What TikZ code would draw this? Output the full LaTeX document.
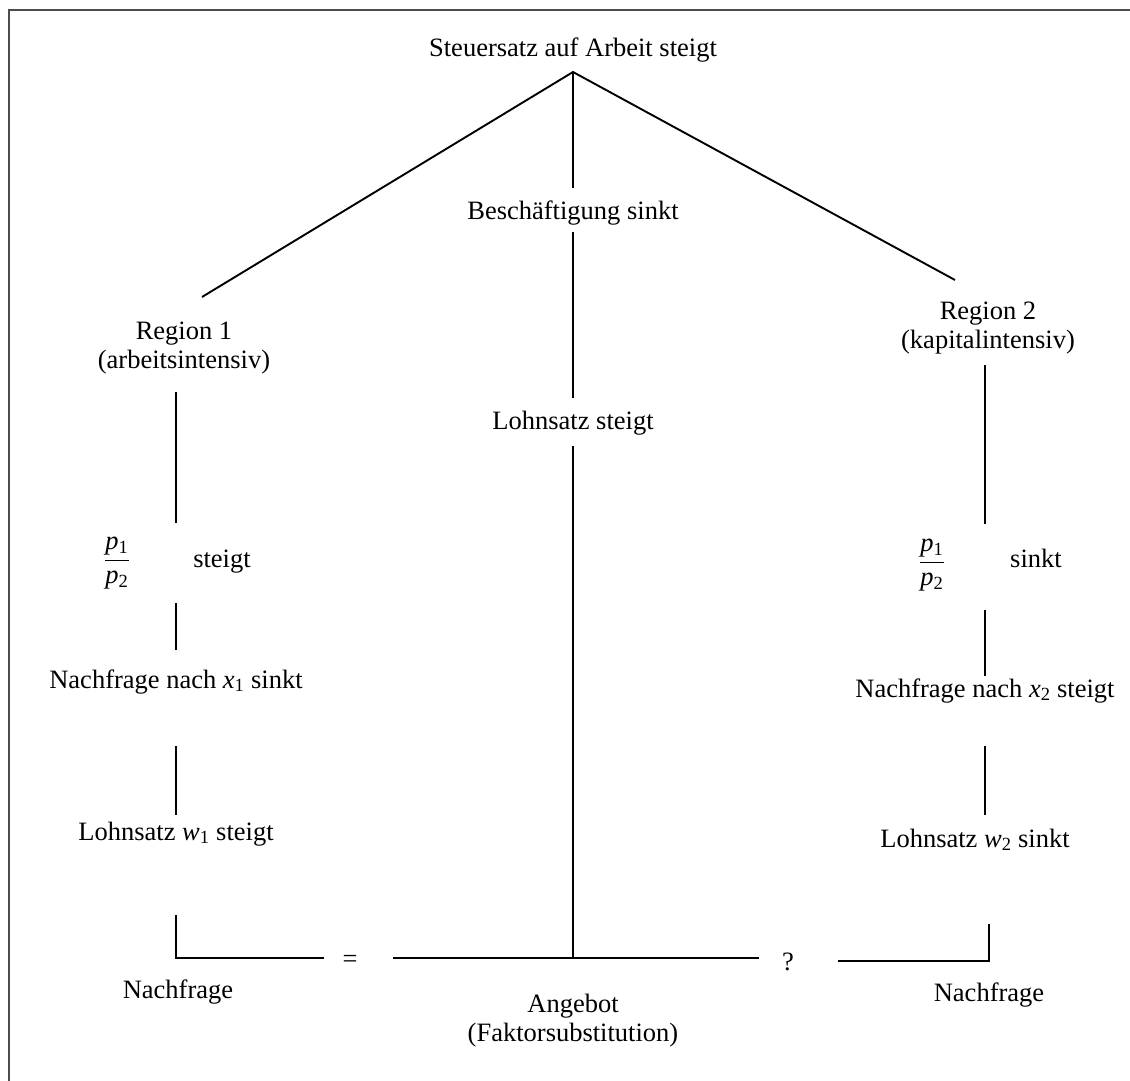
\documentclass[tikz,border=0pt]{standalone}
\usepackage{fontspec}
\setmainfont{Liberation Serif}
\usetikzlibrary{positioning}
\tikzset{
  txt/.style={font=\fontsize{26.5}{29}\selectfont, align=center, inner sep=0pt, anchor=base},
  conn/.style={black, line width=1.9pt},
}
\newcommand{\pfrac}{$\displaystyle\frac{\textit{p}\textsubscript{1}}{\textit{p}\textsubscript{2}}$}

\begin{document}
\begin{tikzpicture}[x=1pt, y=-1pt]
\useasboundingbox (0,0) rectangle (1130,1081);
\draw[black!70, line width=1.6pt] (1130,10) -- (9,10) -- (9,1081);

% 1. 标记重要的点
\coordinate (top) at (573, 72);
\coordinate (lend) at (202, 297);
\coordinate (rend) at (955, 280);
\coordinate (mend) at (573, 188);
\coordinate (m1a) at (573, 232);
\coordinate (m1b) at (573, 398);
\coordinate (m2a) at (573, 446);
\coordinate (m2b) at (573, 958);
\coordinate (bl) at (393, 958);
\coordinate (br) at (759, 958);
\coordinate (lbot) at (176, 958);
\coordinate (lbr) at (324, 958);
\coordinate (rbot) at (989, 961);
\coordinate (rbl) at (838, 961);
\coordinate (rtop) at (989, 924);

% 2. 文字
\node[txt] (tax) at (573, 57) {Steuersatz auf Arbeit steigt};
\node[txt] (emp) at (573, 219) {Beschäftigung sinkt};
\node[txt] (wage) at (573, 429) {Lohnsatz steigt};
\node[txt] (supply) at (573, 1041) {Angebot\\(Faktorsubstitution)};
\node[txt] (eq) at (350, 967) {=};
\node[txt] (qm) at (788, 970) {?};

\node[txt] (reg1) at (184, 368) {Region 1\\(arbeitsintensiv)};
\node[txt, anchor=center] (frac1) at (117, 563) {\pfrac};
\node[txt] (up1) at (222, 567) {steigt};
\node[txt] (dem1) at (176, 688) {Nachfrage nach \textit{x}\textsubscript{1} sinkt};
\node[txt] (w1) at (176, 840) {Lohnsatz \textit{w}\textsubscript{1} steigt};
\node[txt] (nf1) at (178, 998) {Nachfrage};

\node[txt] (reg2) at (988, 348) {Region 2\\(kapitalintensiv)};
\node[txt, anchor=center] (frac2) at (932, 565) {\pfrac};
\node[txt] (down2) at (1036, 567) {sinkt};
\node[txt] (dem2) at (985, 697) {Nachfrage nach \textit{x}\textsubscript{2} steigt};
\node[txt] (w2) at (975, 847) {Lohnsatz \textit{w}\textsubscript{2} sinkt};
\node[txt] (nf2) at (989, 1001) {Nachfrage};

% 3. 连线
\draw[conn] (lend) -- (top) -- (rend);
\draw[conn] (top) -- (mend);
\draw[conn] (m1a) -- (m1b);
\draw[conn] (m2a) -- (m2b);
\draw[conn] (bl) -- (br);
\foreach \ya/\yb in {392/523, 603/650, 746/815}
  {\draw[conn] (176, \ya) -- (176, \yb);}
\foreach \ya/\yb in {365/524, 610/676, 746/815}
  {\draw[conn] (985, \ya) -- (985, \yb);}
\draw[conn] (176, 915) -- (lbot) -- (lbr);
\draw[conn] (rbl) -- (rbot) -- (rtop);
\end{tikzpicture}
\end{document}
